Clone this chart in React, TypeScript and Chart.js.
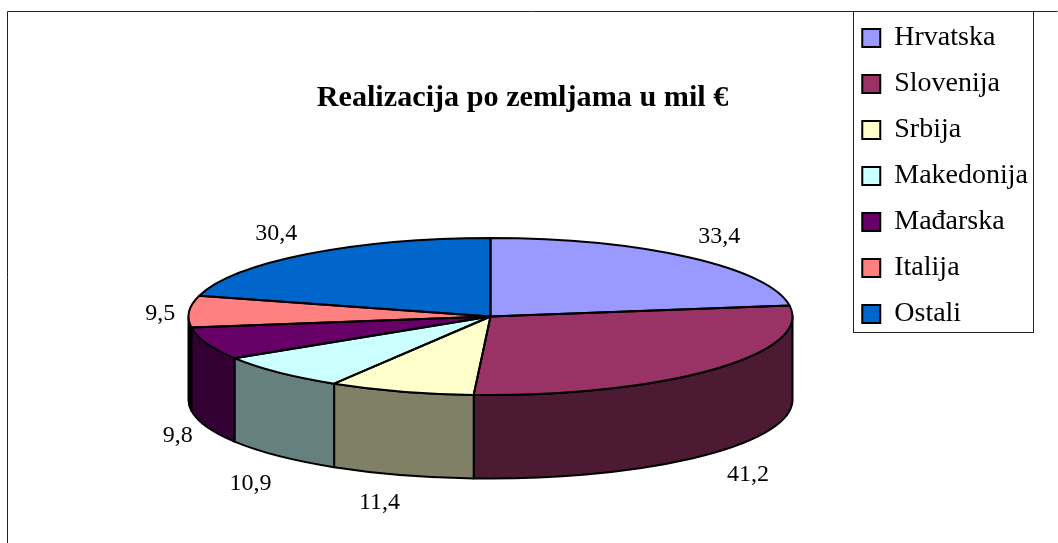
import React, { useEffect, useRef } from "react";
import { Chart, registerables } from "chart.js";

Chart.register(...registerables);

const categories = ["Hrvatska", "Slovenija", "Srbija", "Makedonija", "Mađarska", "Italija", "Ostali"];
const values = [33.4, 41.2, 11.4, 10.9, 9.8, 9.5, 30.4];
const topColors = ["#9999FF", "#993366", "#FFFFCC", "#CCFFFF", "#660066", "#FF8080", "#0066CC"];
const wallColors = ["#4D4D80", "#4D1A33", "#808066", "#668080", "#330033", "#000000", "#003366"];
const titleText = "Realizacija po zemljama u mil €";

const FONT = '"Liberation Serif", serif';
const PIE = { cx: 490.5, cy: 316.5, rx: 302, ry: 78.5, depth: 83.5 };
const FRAME = { left: 7.5, top: 11.5, right: 1057.5, bottom: 560 };
const LEGEND_BOX = { left: 853.5, top: 11.5, right: 1033.5, bottom: 332.5 };
// label offset beyond the pie rim, with small per-label nudges
const LABEL_GAP = { x: 33, y: 30 };
const labelNudge = [
  [9, 2], [11, 1], [-12, -1], [-5, 6], [2, -1], [4, 4], [-11, 3],
];

const fmt = (v: number) => v.toFixed(1).replace(".", ",");

const pie3d = {
  id: "pie3d",
  beforeDraw(chart: any) {
    const { ctx } = chart;
    ctx.save();
    ctx.fillStyle = "#fff";
    ctx.fillRect(0, 0, chart.width, chart.height);
    ctx.strokeStyle = "#222";
    ctx.lineWidth = 1;
    ctx.beginPath();
    ctx.moveTo(FRAME.left, FRAME.bottom);
    ctx.lineTo(FRAME.left, FRAME.top);
    ctx.lineTo(FRAME.right, FRAME.top);
    ctx.stroke();
    ctx.strokeRect(LEGEND_BOX.left, LEGEND_BOX.top, LEGEND_BOX.right - LEGEND_BOX.left, LEGEND_BOX.bottom - LEGEND_BOX.top);
    ctx.restore();
  },
  afterLayout(chart: any) {
    const l = chart.legend;
    const h = l.bottom - l.top;
    l.top = 6;
    l.bottom = 6 + h;
    l.adjustHitBoxes && l.adjustHitBoxes();
  },
  beforeDatasetsDraw(chart: any) {
    const { ctx } = chart;
    const arcs = chart.getDatasetMeta(0).data;
    const { cx, cy, rx, ry, depth } = PIE;
    ctx.save();
    ctx.lineWidth = 2;
    ctx.strokeStyle = "#000";
    ctx.lineJoin = "round";
    arcs.forEach((arc: any, i: number) => {
      const a = Math.max(arc.startAngle, 0);
      const b = Math.min(arc.endAngle, Math.PI);
      if (b <= a) return;
      ctx.beginPath();
      ctx.ellipse(cx, cy, rx, ry, 0, a, b);
      ctx.lineTo(cx + rx * Math.cos(b), cy + ry * Math.sin(b) + depth);
      ctx.ellipse(cx, cy + depth, rx, ry, 0, b, a, true);
      ctx.closePath();
      ctx.fillStyle = wallColors[i];
      ctx.fill();
      ctx.stroke();
    });
    ctx.restore();
    // flatten the library's own pie into the ellipse
    const first = arcs[0];
    const R = first.outerRadius;
    ctx.save();
    ctx.translate(cx, cy);
    ctx.scale(rx / R, ry / R);
    ctx.translate(-first.x, -first.y);
  },
  afterDatasetsDraw(chart: any) {
    const { ctx } = chart;
    ctx.restore();
    const { cx, cy, rx, ry, depth } = PIE;
    const arcs = chart.getDatasetMeta(0).data;
    ctx.save();
    ctx.lineWidth = 2;
    ctx.strokeStyle = "#000";
    ctx.lineJoin = "round";
    arcs.forEach((arc: any) => {
      ctx.beginPath();
      ctx.moveTo(cx, cy);
      ctx.ellipse(cx, cy, rx, ry, 0, arc.startAngle, arc.endAngle);
      ctx.closePath();
      ctx.stroke();
    });
    ctx.fillStyle = "#000";
    ctx.font = `24px ${FONT}`;
    ctx.textAlign = "center";
    ctx.textBaseline = "middle";
    arcs.forEach((arc: any, i: number) => {
      const mid = (arc.startAngle + arc.endAngle) / 2;
      const s = Math.sin(mid);
      const x = cx + (rx + LABEL_GAP.x) * Math.cos(mid) + labelNudge[i][0];
      const y = cy + (ry + LABEL_GAP.y) * s + (s > 0 ? depth : 0) + labelNudge[i][1];
      ctx.fillText(fmt(values[i]), x, y);
    });
    ctx.restore();
  },
};

export default function App() {
  const ref = useRef<HTMLCanvasElement>(null);
  useEffect(() => {
    if (!ref.current) return;
    const base = (Chart as any).overrides.pie.plugins.legend.labels.generateLabels;
    const chart = new Chart(ref.current, {
      type: "pie",
      plugins: [pie3d],
      data: {
        labels: categories,
        datasets: [{ data: values, backgroundColor: topColors, borderWidth: 0, clip: false } as any],
      },
      options: {
        animation: false,
        responsive: false,
        layout: { padding: { right: 20, left: 7, top: 0, bottom: 0 } },
        plugins: {
          tooltip: { enabled: false },
          title: {
            display: true,
            text: titleText,
            color: "#000",
            font: { family: FONT, size: 30.2, weight: "bold" },
            padding: { top: 80, bottom: 10 },
          },
          legend: {
            position: "right",
            align: "start",
            labels: {
              boxWidth: 18,
              boxHeight: 18,
              padding: 18,
              color: "#000",
              font: { family: FONT, size: 28 },
              generateLabels: (c: any) =>
                base(c).map((it: any) => ({ ...it, strokeStyle: "#000", lineWidth: 2 })),
            },
          },
        },
      },
    } as any);
    return () => chart.destroy();
  }, []);
  return (
    <canvas
      ref={ref}
      width={1058}
      height={543}
      style={{ position: "absolute", left: 0, top: 0, display: "block", width: 1058, height: 543 }}
    />
  );
}
